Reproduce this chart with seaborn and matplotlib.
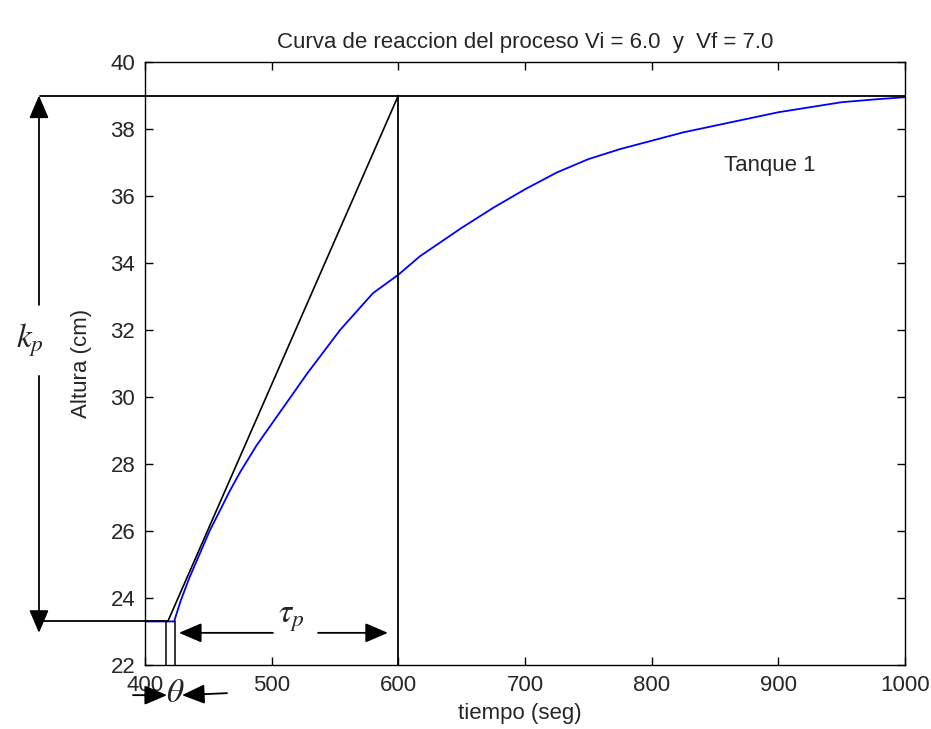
import matplotlib
matplotlib.use("Agg")
import matplotlib.pyplot as plt
import seaborn as sns
import pandas as pd

# ---- data ----
tiempo = [400, 410, 418, 423, 428, 435, 443, 451, 459, 467, 475, 488, 501,
          515, 528, 541, 554, 567, 580, 600, 617, 650, 675, 700, 725, 750,
          775, 800, 825, 850, 875, 900, 925, 950, 975, 1000]
altura = [23.3, 23.3, 23.3, 23.3, 23.9, 24.6, 25.3, 26.0, 26.6, 27.2, 27.75,
          28.55, 29.25, 30.0, 30.7, 31.35, 32.0, 32.55, 33.1, 33.65, 34.2, 35.05,
          35.65, 36.2, 36.7, 37.1, 37.4, 37.65, 37.9, 38.1, 38.3, 38.5, 38.65,
          38.8, 38.88, 38.95]
tangente_t = [418, 600]
tangente_y = [23.3, 39.0]
y_inicial = 23.3
y_final = 39.0
theta_lines = [416.7, 423.7]
tau_line = 600
titulo = "Curva de reaccion del proceso Vi = 6.0  y  Vf = 7.0"
xlabel = "tiempo (seg)"
ylabel = "Altura (cm)"
xticks = [400, 500, 600, 700, 800, 900, 1000]
yticks = [22, 24, 26, 28, 30, 32, 34, 36, 38, 40]

df = pd.DataFrame({"tiempo": tiempo, "altura": altura})

sns.set_style("ticks")
plt.rcParams["font.family"] = ["Liberation Sans", "DejaVu Sans"]
plt.rcParams["mathtext.fontset"] = "stix"
plt.rcParams["xtick.direction"] = "in"
plt.rcParams["ytick.direction"] = "in"

FS = 16

fig = plt.figure(figsize=(9.31, 7.29), dpi=100)
fig.patch.set_facecolor("white")
ax = fig.add_axes([145 / 931, 64 / 729, 760 / 931, 603 / 729])

sns.lineplot(data=df, x="tiempo", y="altura", ax=ax, color="#0000ff", lw=1.3)

k = "black"
ax.plot(tangente_t, tangente_y, color=k, lw=1.2)
ax.plot([tau_line, tau_line], [22, y_final], color=k, lw=1.3)
for xv in theta_lines:
    ax.plot([xv, xv], [22, y_inicial], color=k, lw=1.1)

ax.set_xlim(400, 1000)
ax.set_ylim(22, 40)
ax.set_xticks(xticks)
ax.set_yticks(yticks)
ax.tick_params(axis="both", labelsize=FS, length=6, width=1, color="black",
               top=True, right=True, direction="in", pad=7)
for s in ax.spines.values():
    s.set_visible(True)
    s.set_color("black")
    s.set_linewidth(1.0)
ax.set_title(titulo, fontsize=FS, pad=10)
ax.set_xlabel(xlabel, fontsize=FS)
ax.set_ylabel(ylabel, fontsize=FS)
ax.xaxis.set_label_coords(0.493, -0.063)
ax.yaxis.set_label_coords(-0.07, 0.5)
ax.text(857, 36.9, "Tanque 1", fontsize=FS, va="center", ha="left")

# lines outside axes
x_kp = 316.3
ax.plot([x_kp + 1, 1000], [y_final, y_final], color=k, lw=1.3, clip_on=False)
ax.plot([x_kp + 1, 418], [y_inicial, y_inicial], color=k, lw=1.3, clip_on=False)

ap = dict(arrowstyle="-|>,head_length=0.7,head_width=0.3", color=k, lw=1.3,
          shrinkA=0, shrinkB=0, mutation_scale=20)
ax.annotate("", xy=(x_kp, y_final), xytext=(x_kp, 32.75), arrowprops=ap,
            annotation_clip=False)
ax.annotate("", xy=(x_kp, 22.96), xytext=(x_kp, 30.63), arrowprops=ap,
            annotation_clip=False)
ax.text(309, 31.7, r"$k_p$", fontsize=24, ha="center", va="center")

ax.annotate("", xy=(426.8, 22.96), xytext=(501, 22.96), arrowprops=ap,
            annotation_clip=False)
ax.annotate("", xy=(591.8, 22.96), xytext=(536.6, 22.96), arrowprops=ap,
            annotation_clip=False)
ax.text(515.3, 23.4, r"$\tau_p$", fontsize=24, ha="center", va="center")

ax.annotate("", xy=(417.4, 21.1), xytext=(390.5, 21.1), arrowprops=ap,
            annotation_clip=False)
ax.annotate("", xy=(429.2, 21.1), xytext=(464.7, 21.16), arrowprops=ap,
            annotation_clip=False)
ax.text(423.5, 21.15, r"$\theta$", fontsize=24, ha="center", va="center")

fig.savefig("out.png", dpi=100, facecolor="white")
